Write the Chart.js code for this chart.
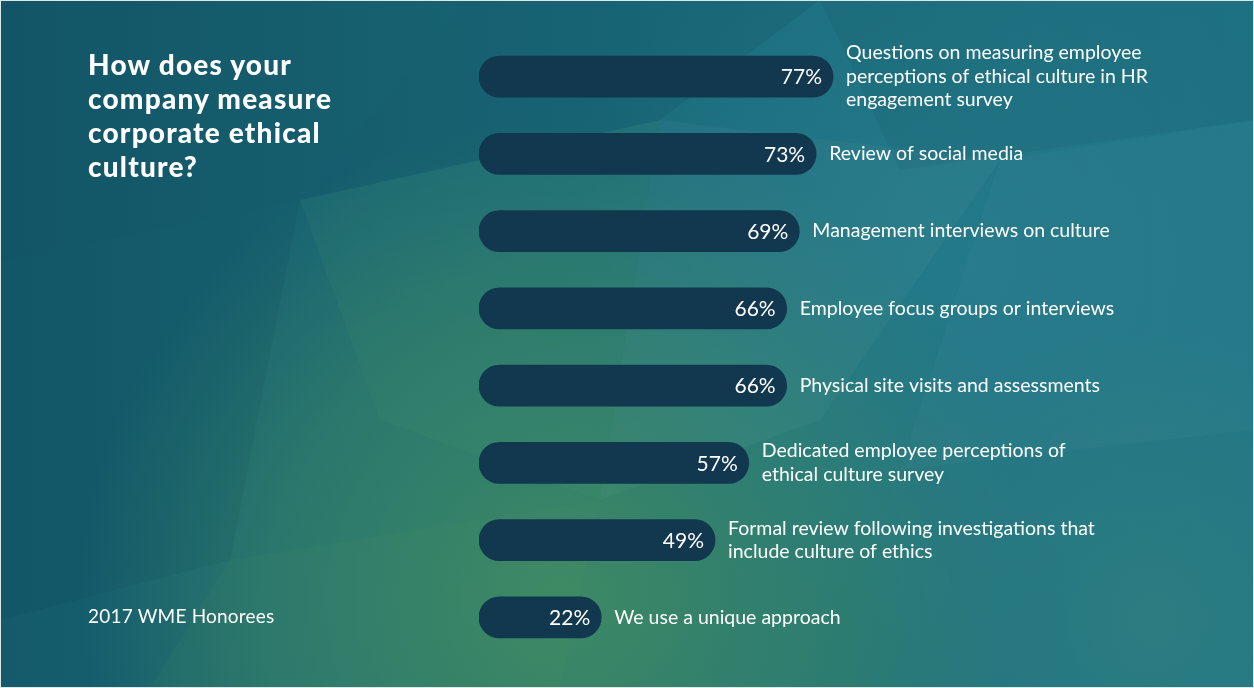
<!DOCTYPE html>
<html>
<head>
<meta charset="utf-8">
<script src="https://cdn.jsdelivr.net/npm/chart.js@4.4.1/dist/chart.umd.min.js"></script>
<style>
  html, body { margin: 0; padding: 0; }
  body { width: 1254px; height: 688px; overflow: hidden; position: relative; font-family: Lato, "Open Sans", sans-serif; }
  #wrap { position: absolute; left: 0; top: 0; width: 1254px; height: 688px; }
  .title { position: absolute; left: 88px; top: 47px; color: #fff; font-weight: 900; font-size: 28px; line-height: 34px; letter-spacing: 1.2px; }
  .foot { position: absolute; left: 88px; top: 604px; color: #fff; font-size: 19px; letter-spacing: 0.2px; }
  .frame { position: absolute; left: 0; top: 0; width: 1252px; height: 686px; border: 1px solid #dfe6e8; pointer-events: none; }
</style>
</head>
<body>
<div id="wrap"><canvas id="chart" width="1254" height="688"></canvas></div>
<div class="title">How does your<br>company measure<br>corporate ethical<br>culture?</div>
<div class="foot">2017 WME Honorees</div>
<div class="frame"></div>
<script>
// data
const categories = [
  ["Questions on measuring employee", "perceptions of ethical culture in HR", "engagement survey"],
  ["Review of social media"],
  ["Management interviews on culture"],
  ["Employee focus groups or interviews"],
  ["Physical site visits and assessments"],
  ["Dedicated employee perceptions of", "ethical culture survey"],
  ["Formal review following investigations that", "include culture of ethics"],
  ["We use a unique approach"]
];
const shares = [77, 73, 69, 66, 66, 57, 49, 22];

// background facets
const bgPlugin = {
  id: "bg",
  beforeDraw(chart) {
    const ctx = chart.ctx;
    const w = chart.width, h = chart.height;
    ctx.save();
    let g = ctx.createLinearGradient(0, 0, w, 0);
    g.addColorStop(0, "#145a6b");
    g.addColorStop(0.55, "#1b6d7c");
    g.addColorStop(1, "#207686");
    ctx.fillStyle = g;
    ctx.fillRect(0, 0, w, h);

    g = ctx.createRadialGradient(560, 600, 20, 560, 600, 480);
    g.addColorStop(0, "rgba(62,138,100,0.95)");
    g.addColorStop(0.6, "rgba(55,132,105,0.6)");
    g.addColorStop(1, "rgba(55,132,105,0)");
    ctx.fillStyle = g;
    ctx.fillRect(0, 0, w, h);

    g = ctx.createRadialGradient(950, 260, 10, 950, 260, 380);
    g.addColorStop(0, "rgba(42,128,143,0.55)");
    g.addColorStop(1, "rgba(42,128,143,0)");
    ctx.fillStyle = g;
    ctx.fillRect(0, 0, w, h);

    g = ctx.createRadialGradient(1150, 620, 10, 1150, 620, 300);
    g.addColorStop(0, "rgba(48,128,130,0.8)");
    g.addColorStop(1, "rgba(48,128,130,0)");
    ctx.fillStyle = g;
    ctx.fillRect(0, 0, w, h);

    const facets = [
      [[0, 0], [470, 0], [300, 200], [0, 260], "rgba(0,20,40,0.06)"],
      [[470, 0], [820, 0], [660, 120], [300, 200], "rgba(0,30,50,0.08)"],
      [[820, 0], [1254, 0], [1254, 120], [900, 170], "rgba(0,20,40,0.05)"],
      [[300, 200], [660, 120], [600, 500], [380, 420], "rgba(80,160,110,0.10)"],
      [[660, 120], [1000, 160], [820, 420], [600, 500], "rgba(255,255,255,0.03)"],
      [[0, 260], [300, 200], [230, 560], [0, 620], "rgba(0,40,50,0.07)"],
      [[230, 560], [600, 500], [560, 688], [150, 688], "rgba(80,150,100,0.10)"],
      [[1000, 160], [1254, 120], [1254, 430], [900, 470], "rgba(255,255,255,0.02)"],
      [[900, 470], [1254, 430], [1254, 688], [1000, 688], "rgba(40,120,130,0.10)"]
    ];
    facets.forEach(f => {
      ctx.beginPath();
      ctx.moveTo(f[0][0], f[0][1]);
      for (let i = 1; i < f.length - 1; i++) ctx.lineTo(f[i][0], f[i][1]);
      ctx.closePath();
      ctx.fillStyle = f[f.length - 1];
      ctx.fill();
    });
    ctx.restore();
  }
};

// value inside the bar, category text to the right
const labelPlugin = {
  id: "labels",
  afterDatasetsDraw(chart) {
    const ctx = chart.ctx;
    const meta = chart.getDatasetMeta(0);
    ctx.save();
    ctx.fillStyle = "#ffffff";
    ctx.textBaseline = "middle";
    meta.data.forEach((bar, i) => {
      ctx.font = "21px Lato, 'Open Sans', sans-serif";
      ctx.textAlign = "right";
      ctx.fillText(shares[i] + "%", bar.x - 11, bar.y + 1);

      const lines = categories[i];
      ctx.font = "19.5px Lato, 'Open Sans', sans-serif";
      ctx.textAlign = "left";
      const lh = 23.5;
      const y0 = bar.y - (lines.length - 1) * lh / 2;
      lines.forEach((t, j) => ctx.fillText(t, bar.x + 13, y0 + j * lh));
    });
    ctx.restore();
  }
};

new Chart(document.getElementById("chart"), {
  type: "bar",
  data: {
    labels: categories.map(c => c.join(" ")),
    datasets: [{
      data: shares,
      base: -7,
      backgroundColor: "#12384f",
      borderRadius: 21,
      borderSkipped: false,
      barThickness: 41
    }]
  },
  options: {
    indexAxis: "y",
    responsive: false,
    animation: false,
    layout: { padding: { left: 479, right: 324, top: 38, bottom: 32 } },
    scales: {
      x: { display: false, min: -7, max: 100 },
      y: { display: false }
    },
    plugins: {
      legend: { display: false },
      tooltip: { enabled: false }
    }
  },
  plugins: [bgPlugin, labelPlugin]
});
</script>
</body>
</html>
